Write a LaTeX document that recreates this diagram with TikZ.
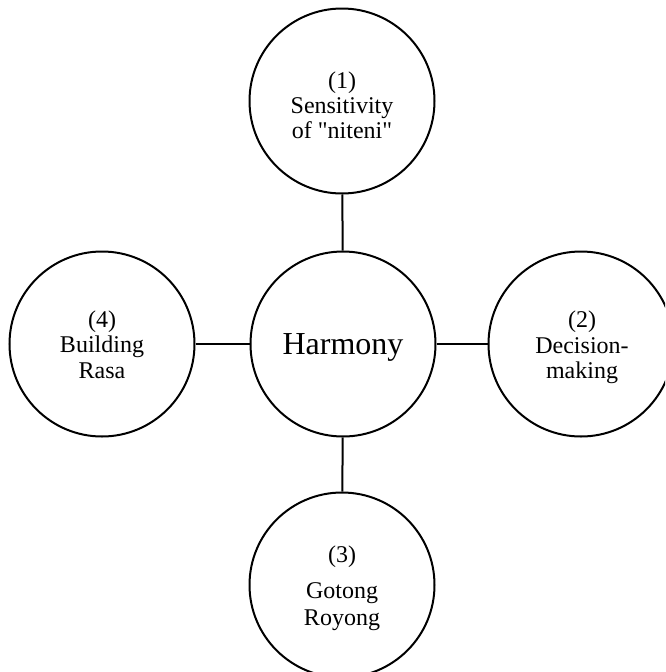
\documentclass[tikz,border=0pt]{standalone}
\usepackage{fontspec}
\setmainfont{Liberation Serif}
\newfontfamily\plainquote{Liberation Serif}[Ligatures=TeXOff]
\begin{document}
\begin{tikzpicture}[x=1pt,y=-1pt,
  disc/.style={circle,draw=black,line width=2pt,minimum size=185pt,inner sep=0pt},
  lbl/.style={anchor=base,inner sep=0pt,font=\fontsize{24}{25}\selectfont},
  link/.style={line width=2pt}]
\useasboundingbox (0,0) rectangle (665,672);
\begin{scope}
\clip (0,0) rectangle (665,672);
\node[disc] (c) at (343,344) {};
\node[disc] (t) at (342,101) {};
\node[disc] (l) at (102,344) {};
\node[disc] (r) at (581,344) {};
\node[disc] (b) at (342,585) {};
\draw[link] (t) -- (c);
\draw[link] (c) -- (b);
\draw[link] (l) -- (c);
\draw[link] (c) -- (r);
\end{scope}
\node[anchor=base,inner sep=0pt,font=\fontsize{32}{34}\selectfont] (h) at (343,354) {Harmony};
\node[lbl] (t1) at (342,88) {(1)};
\node[lbl] (t2) at (342,113) {Sensitivity};
\node[lbl,font=\fontsize{24}{25}\plainquote] (t3) at (342,138) {of "niteni"};
\node[lbl] (r1) at (582,327) {(2)};
\node[lbl] (r2) at (582,353) {Decision-};
\node[lbl] (r3) at (582,378) {making};
\node[lbl] (b1) at (342,562) {(3)};
\node[lbl] (b2) at (342,598) {Gotong};
\node[lbl] (b3) at (342,625) {Royong};
\node[lbl] (l1) at (102,327) {(4)};
\node[lbl] (l2) at (102,352) {Building};
\node[lbl] (l3) at (102,378) {Rasa};
\end{tikzpicture}
\end{document}
